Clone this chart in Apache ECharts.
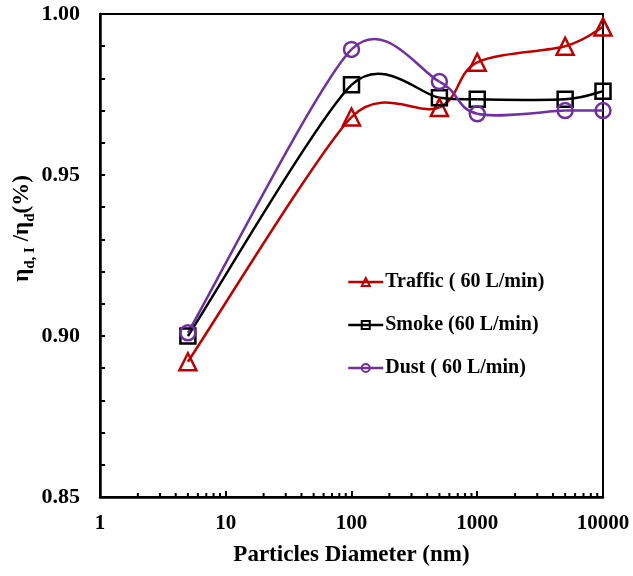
<!DOCTYPE html>
<html>
<head>
<meta charset="utf-8">
<script src="https://cdn.jsdelivr.net/npm/echarts@6/dist/echarts.min.js"></script>
<style>
  html, body { margin: 0; padding: 0; background: #fff; }
  #chart { width: 633px; height: 576px; }
</style>
</head>
<body>
<div id="chart"></div>
<script>
// Particle diameters (nm) and normalised efficiency ratios
const diameters = [5, 100, 500, 1000, 5000, 10000];
const traffic = [0.892, 0.968, 0.971, 0.985, 0.990, 0.996];
const smoke   = [0.900, 0.978, 0.974, 0.9735, 0.9735, 0.976];
const dust    = [0.901, 0.989, 0.979, 0.969, 0.970, 0.970];
const seriesNames = ['Traffic ( 60 L/min)', 'Smoke (60 L/min)', 'Dust ( 60 L/min)'];
const seriesColors = ['#C00000', '#000000', '#7030A0'];
const seriesSymbols = ['triangle', 'rect', 'circle'];
const xTickLabels = ['1', '10', '100', '1000', '10000'];

// Logarithmic minor tick positions on the x axis (2..9 of each decade)
const minorTicksX = [];
[1, 10, 100, 1000].forEach(function (d) {
  for (let k = 2; k <= 9; k++) minorTicksX.push(d * k);
});

const FONT = '"Liberation Serif", "Times New Roman", serif';
const Y_MIN = 0.85, Y_MAX = 1.0;

function pairs(xs, ys) { return xs.map(function (x, i) { return [x, ys[i]]; }); }
function dist(a, b) { return Math.hypot(b[0] - a[0], b[1] - a[1]); }

// Marker-only series (also feeds the legend)
function markerSeries(i, values) {
  return {
    name: seriesNames[i],
    type: 'line',
    data: pairs(diameters, values),
    symbol: seriesSymbols[i],
    symbolSize: i === 0 ? 17 : 15,
    lineStyle: { color: seriesColors[i], width: 2.5, opacity: 0 },
    itemStyle: { color: 'rgba(255,255,255,0)', borderColor: seriesColors[i], borderWidth: 2.5 },
    emphasis: { disabled: true },
    z: 4
  };
}

// Smoothed connecting curve: cubic Bezier segments in pixel space,
// tangent = neighbour chord / 6, capped at half the shorter adjacent segment
function curveSeries(i, values) {
  const n = values.length;
  return {
    type: 'custom',
    silent: true,
    data: pairs(diameters, values),
    z: 3,
    renderItem: function (params, api) {
      const k = params.dataIndex;
      if (k >= n - 1) return null;
      const pts = diameters.map(function (d, j) { return api.coord([d, values[j]]); });
      function tangent(j) {
        const prev = pts[j - 1] || pts[j];
        const next = pts[j + 1] || pts[j];
        const tx = next[0] - prev[0], ty = next[1] - prev[1];
        const L = Math.hypot(tx, ty);
        if (L === 0) return [0, 0];
        let len = L / 6;
        if (j > 0) len = Math.min(len, dist(pts[j - 1], pts[j]) / 2);
        if (j < n - 1) len = Math.min(len, dist(pts[j], pts[j + 1]) / 2);
        return [tx / L * len, ty / L * len];
      }
      const a = pts[k], b = pts[k + 1], ta = tangent(k), tb = tangent(k + 1);
      return {
        type: 'bezierCurve',
        shape: {
          x1: a[0], y1: a[1],
          cpx1: a[0] + ta[0], cpy1: a[1] + ta[1],
          cpx2: b[0] - tb[0], cpy2: b[1] - tb[1],
          x2: b[0], y2: b[1]
        },
        style: { stroke: seriesColors[i], lineWidth: 2.5, fill: null }
      };
    }
  };
}

const chart = echarts.init(document.getElementById('chart'), null, { renderer: 'canvas' });
chart.setOption({
  animation: false,
  backgroundColor: '#fff',
  grid: {
    left: 100, right: 30, top: 14, bottom: 79,
    outerBoundsMode: 'none',
    containLabel: false,
    show: true, borderColor: '#000', borderWidth: 2, backgroundColor: 'transparent'
  },
  legend: {
    data: seriesNames.map(function (n, i) {
      return {
        name: n,
        itemStyle: { color: 'rgba(255,255,255,0)', borderColor: seriesColors[i], borderWidth: 2 },
        lineStyle: { color: seriesColors[i], width: 2.5, opacity: 1 }
      };
    }),
    orient: 'vertical',
    left: 342, top: 267,
    itemWidth: 35, itemHeight: 10,
    itemGap: 23,
    textStyle: { fontFamily: FONT, fontWeight: 'bold', fontSize: 20, color: '#000', padding: [0, 0, 0, -3] }
  },
  xAxis: {
    type: 'log',
    logBase: 10,
    min: 1, max: 10000,
    name: 'Particles Diameter (nm)',
    nameLocation: 'middle',
    nameGap: 47,
    nameMoveOverlap: false,
    nameTextStyle: { fontFamily: FONT, fontWeight: 'bold', fontSize: 23, color: '#000' },
    axisLine: { lineStyle: { color: '#000', width: 2.5 } },
    axisTick: { inside: true, length: 6, lineStyle: { color: '#000', width: 2 } },
    axisLabel: {
      fontFamily: FONT, fontWeight: 'bold', fontSize: 21, color: '#000', margin: 16,
      formatter: function (v) {
        const idx = Math.round(Math.log10(v));
        return xTickLabels[idx] !== undefined ? xTickLabels[idx] : String(v);
      }
    },
    splitLine: { show: false }
  },
  yAxis: {
    type: 'value',
    min: Y_MIN, max: Y_MAX, interval: 0.05,
    name: '{eta|η}{sub|d, I}{eta| /η}{sub|d}{eta|(%)}',
    nameLocation: 'middle',
    nameGap: 66,
    nameMoveOverlap: false,
    nameRotate: 90,
    nameTextStyle: {
      fontFamily: FONT, fontWeight: 'bold', fontSize: 22, color: '#000',
      padding: [0, 0, 0, 54],
      rich: {
        eta: { fontFamily: FONT, fontWeight: 'bold', fontSize: 23, color: '#000', verticalAlign: 'bottom', lineHeight: 26 },
        sub: { fontFamily: FONT, fontWeight: 'bold', fontSize: 15, color: '#000', verticalAlign: 'bottom', lineHeight: 22, padding: [0, 0, -4, 0] }
      }
    },
    axisLine: { lineStyle: { color: '#000', width: 2.5 } },
    axisTick: { inside: true, length: 5, lineStyle: { color: '#000', width: 2 } },
    minorTick: { show: true, splitNumber: 5, length: 5, lineStyle: { color: '#000', width: 2 } },
    axisLabel: {
      fontFamily: FONT, fontWeight: 'bold', fontSize: 22, color: '#000', margin: 20,
      formatter: function (v) { return v.toFixed(2); }
    },
    splitLine: { show: false }
  },
  series: [
    curveSeries(0, traffic),
    curveSeries(1, smoke),
    curveSeries(2, dust),
    markerSeries(0, traffic),
    markerSeries(1, smoke),
    markerSeries(2, dust),
    {
      // short upward minor ticks along the logarithmic x axis
      type: 'custom',
      silent: true,
      data: minorTicksX.map(function (v) { return [v, Y_MIN]; }),
      renderItem: function (params, api) {
        const p = api.coord([api.value(0), api.value(1)]);
        return {
          type: 'line',
          shape: { x1: p[0], y1: p[1], x2: p[0], y2: p[1] - 4 },
          style: { stroke: '#000', lineWidth: 2 }
        };
      },
      z: 1
    }
  ]
});
</script>
</body>
</html>
